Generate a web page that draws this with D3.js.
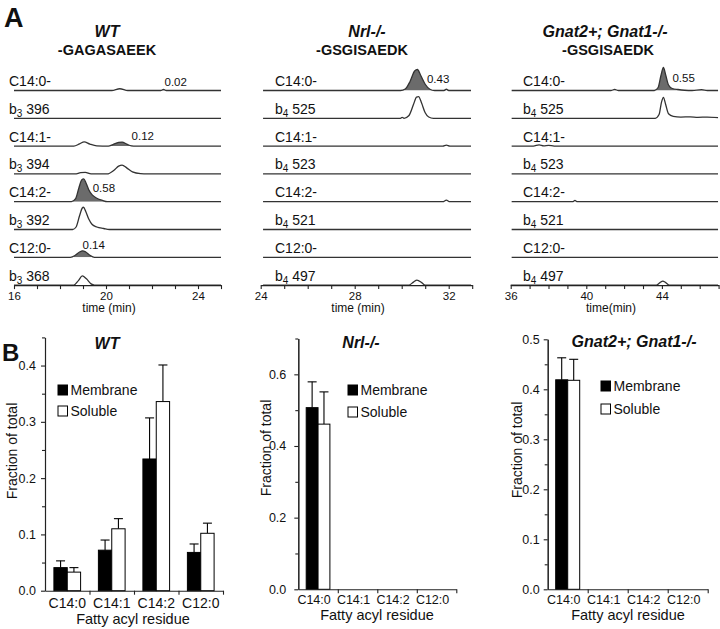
<!DOCTYPE html>
<html>
<head>
<meta charset="UTF-8">
<title>Fatty acylation of transducin</title>
<style>
  body { margin: 0; background: #fff; }
  svg { font-family: "Liberation Sans", Arial, sans-serif; }
  .axis path, .axis line { stroke: #222; stroke-width: 1.1; }
  .axis text { font-family: "Liberation Sans", Arial, sans-serif; fill: #111; }
</style>
</head>
<body>
<svg width="720" height="629"></svg>

<script src="https://d3js.org/d3.v7.min.js"></script>
<script>

// ---------- data: chromatograms (time in min, relative intensity) ----------
const wtRowLabels = ["C14:0-", "b_3 396", "C14:1-", "b_3 394", "C14:2-", "b_3 392", "C12:0-", "b_3 368"];
const koRowLabels = ["C14:0-", "b_4 525", "C14:1-", "b_4 523", "C14:2-", "b_4 521", "C12:0-", "b_4 497"];

const wtTraces = [
  [[16,0],[20.25,0],[20.6,0.07],[20.95,0],[22.38,0],[22.5,0.04],[22.62,0],[25,0]],
  [[16,0],[25,0]],
  [[16,0],[18.6,0],[18.85,0.09],[19.05,0.17],[19.3,0.08],[19.6,0.01],[20.1,0],[20.3,0.06],[20.55,0.15],[20.7,0.16],[20.9,0.08],[21.1,0.01],[21.3,0],[25,0]],
  [[16,0],[18.65,0],[18.9,0.05],[19.1,0.06],[19.35,0],[20.05,0],[20.35,0.15],[20.55,0.31],[20.7,0.35],[20.9,0.24],[21.15,0.08],[21.5,0.01],[21.8,0],[25,0]],
  [[16,0],[18.5,0],[18.68,0.12],[18.82,0.55],[18.95,0.88],[19.03,0.91],[19.13,0.75],[19.25,0.48],[19.4,0.27],[19.6,0.14],[19.85,0.05],[20.05,0],[25,0]],
  [[16,0],[18.55,0],[18.7,0.1],[18.85,0.55],[18.97,0.86],[19.02,0.89],[19.12,0.72],[19.25,0.42],[19.4,0.2],[19.6,0.1],[19.9,0.04],[20.15,0],[25,0]],
  [[16,0],[18.45,0],[18.65,0.07],[18.85,0.21],[18.98,0.26],[19.12,0.21],[19.3,0.08],[19.5,0],[25,0]],
  [[16,0],[18.6,0],[18.8,0.18],[18.97,0.37],[19.15,0.25],[19.35,0.05],[19.5,0],[25,0]]
];
const wtFills = [[22.35, 22.65], null, [20.15, 21.2], null, [18.4, 20.1], null, [18.4, 19.55], null];
const wtPeakLabels = ["0.02", null, "0.12", null, "0.58", null, "0.14", null];
const wtPeakTimes = [22.5, null, 20.7, null, 19.03, null, 18.98, null];

const nrlTraces = [
  [[24.1,0],[29.95,0],[30.15,0.06],[30.35,0.35],[30.55,0.78],[30.67,0.84],[30.8,0.62],[31.0,0.25],[31.2,0.05],[31.4,0],[31.8,0],[31.9,0.05],[32.0,0],[32.95,0]],
  [[24.1,0],[29.95,0],[30.02,0.04],[30.1,0],[30.3,0.1],[30.5,0.55],[30.63,0.85],[30.72,0.87],[30.85,0.6],[31.0,0.22],[31.15,0.05],[31.35,0],[32.95,0]],
  [[24.1,0],[31.75,0],[31.9,0.04],[32.05,0],[32.95,0]],
  [[24.1,0],[32.95,0]],
  [[24.1,0],[31.75,0],[31.9,0.06],[32.05,0],[32.95,0]],
  [[24.1,0],[32.95,0]],
  [[24.1,0],[32.95,0]],
  [[24.1,0],[30.3,0],[30.5,0.12],[30.65,0.2],[30.85,0.1],[31.0,0],[32.95,0]]
];
const nrlFills = [[29.9, 31.45], null, null, null, null, null, null, null];
const nrlPeakLabels = ["0.43", null, null, null, null, null, null, null];
const nrlPeakTimes = [30.67, null, null, null, null, null, null, null];

const gnatTraces = [
  [[36.05,0],[41.3,0],[41.5,0.04],[41.7,0],[43.6,0],[43.8,0.12],[43.95,0.6],[44.08,0.92],[44.2,0.62],[44.35,0.22],[44.55,0.08],[44.85,0.04],[45.2,0.01],[45.6,0],[46.1,0.03],[46.4,0],[46.97,0]],
  [[36.05,0],[43.65,0],[43.85,0.15],[43.98,0.65],[44.08,0.84],[44.2,0.55],[44.35,0.18],[44.6,0.08],[45.0,0.05],[45.5,0.06],[45.9,0.04],[46.4,0.05],[46.97,0.03]],
  [[36.05,0],[37.2,0],[37.5,0.05],[37.75,0.01],[38.0,0.03],[38.3,0],[46.97,0]],
  [[36.05,0],[46.97,0]],
  [[36.05,0],[39.3,0],[39.4,0.05],[39.5,0],[46.97,0]],
  [[36.05,0],[46.97,0]],
  [[36.05,0],[46.97,0]],
  [[36,0],[43.7,0],[43.9,0.1],[44.05,0.16],[44.2,0.1],[44.4,0],[46.97,0]]
];
const gnatFills = [[43.55, 45.3], null, null, null, null, null, null, null];
const gnatPeakLabels = ["0.55", null, null, null, null, null, null, null];
const gnatPeakTimes = [44.08, null, null, null, null, null, null, null];

// ---------- data: fractions ----------
const residues = ["C14:0", "C14:1", "C14:2", "C12:0"];
const wtMembrane    = [0.041, 0.072, 0.234, 0.068];
const wtMembraneErr = [0.012, 0.018, 0.073, 0.015];
const wtSoluble     = [0.033, 0.110, 0.336, 0.102];
const wtSolubleErr  = [0.008, 0.018, 0.065, 0.018];
const nrlMembrane    = [0.507, 0, 0, 0];
const nrlMembraneErr = [0.072, 0, 0, 0];
const nrlSoluble     = [0.461, 0, 0, 0];
const nrlSolubleErr  = [0.090, 0, 0, 0];
const gnatMembrane    = [0.419, 0, 0, 0];
const gnatMembraneErr = [0.044, 0, 0, 0];
const gnatSoluble     = [0.418, 0, 0, 0];
const gnatSolubleErr  = [0.042, 0, 0, 0];

// ---------- drawing ----------
const svg = d3.select("svg");
const ink = "#111";

svg.append("text").attr("x", 4).attr("y", 27).attr("font-size", 27).attr("font-weight", "bold").attr("fill", ink).text("A");
svg.append("text").attr("x", 2).attr("y", 361).attr("font-size", 24).attr("font-weight", "bold").attr("fill", ink).text("B");

function rowLabel(g, x, y, s) {
  const t = g.append("text").attr("x", x).attr("y", y).attr("font-size", 14).attr("fill", ink)
    .style("white-space", "pre");
  const m = s.match(/^(\w)_(\d)(.*)$/);
  if (m) {
    t.append("tspan").text(m[1]);
    t.append("tspan").attr("font-size", 10).attr("dy", 3).text(m[2]);
    t.append("tspan").attr("dy", -3).text(m[3]);
  } else {
    t.text(s);
  }
}

const rowY = i => 90.5 + 27.8 * i;

function chromPanel(p, idx) {
  const x = d3.scaleLinear().domain(p.domain).range(p.range);
  const g = svg.append("g");

  g.append("text").attr("x", p.titleX).attr("y", 37).attr("text-anchor", "middle")
    .attr("font-size", 16).attr("font-weight", "bold").attr("font-style", "italic").attr("fill", ink).text(p.title);
  g.append("text").attr("x", p.subX).attr("y", 55).attr("text-anchor", "middle")
    .attr("font-size", 14.5).attr("font-weight", "bold").attr("fill", ink).text(p.peptide);

  p.traces.forEach((pts, i) => {
    const base = rowY(i);
    const y = d3.scaleLinear().domain([0, 1]).range([base, base - 25]);
    const curve = d3.curveMonotoneX;
    if (p.fills[i]) {
      const id = "clip" + idx + "_" + i;
      const fw = p.fills[i];
      g.append("clipPath").attr("id", id).append("rect")
        .attr("x", x(fw[0])).attr("width", x(fw[1]) - x(fw[0]))
        .attr("y", base - 30).attr("height", 30);
      g.append("path").datum(pts)
        .attr("d", d3.area().x(d => x(d[0])).y0(base).y1(d => y(d[1])).curve(curve))
        .attr("clip-path", "url(#" + id + ")")
        .attr("fill", "#6b6b6b");
    }
    g.append("path").datum(pts)
      .attr("d", d3.line().x(d => x(d[0])).y(d => y(d[1])).curve(curve))
      .attr("fill", "none").attr("stroke", "#333").attr("stroke-width", 1.3);

    rowLabel(g, p.labelX, base - 4.5, p.rowLabels[i]);

    if (p.peakLabels[i]) {
      const pt = p.peakTimes[i];
      const nudge = p.nudge[i];
      g.append("text").attr("x", x(pt) + nudge[0]).attr("y", base + nudge[1])
        .attr("font-size", 11.5).attr("fill", ink).text(p.peakLabels[i]);
    }
  });

  const ax = g.append("g").attr("class", "axis").attr("transform", "translate(0," + rowY(7) + ")")
    .call(d3.axisBottom(x)
      .tickValues(d3.range(p.domain[0], p.domain[1] + 1))
      .tickSize(4).tickSizeOuter(0).tickPadding(3)
      .tickFormat(d => p.labelTicks.includes(d) ? d : ""));
  ax.selectAll("text").attr("font-size", 11.5);

  g.append("text").attr("x", p.timeX).attr("y", 312).attr("text-anchor", "middle")
    .attr("font-size", 12).attr("fill", ink).text(p.timeLabel);
}

chromPanel({
  title: "WT", peptide: "-GAGASAEEK", titleX: 107, subX: 107,
  domain: [16, 25], range: [14, 221], labelTicks: [16, 20, 24],
  traces: wtTraces, fills: wtFills, rowLabels: wtRowLabels,
  peakLabels: wtPeakLabels, peakTimes: wtPeakTimes,
  nudge: [[1, -4.5], null, [9.5, -6.5], null, [9, -10], null, [0, -8], null],
  labelX: 9, timeX: 109, timeLabel: "time (min)"
}, 0);

chromPanel({
  title: "Nrl-/-", peptide: "-GSGISAEDK", titleX: 367, subX: 362,
  domain: [24, 33], range: [260.7, 472.2], labelTicks: [24, 28, 32],
  traces: nrlTraces, fills: nrlFills, rowLabels: koRowLabels,
  peakLabels: nrlPeakLabels, peakTimes: nrlPeakTimes,
  nudge: [[9.5, -8], null, null, null, null, null, null, null],
  labelX: 275, timeX: 358, timeLabel: "time (min)"
}, 1);

chromPanel({
  title: "Gnat2+; Gnat1-/-", peptide: "-GSGISAEDK", titleX: 605, subX: 608,
  domain: [36, 47], range: [510.7, 718.6], labelTicks: [36, 40, 44],
  traces: gnatTraces, fills: gnatFills, rowLabels: koRowLabels,
  peakLabels: gnatPeakLabels, peakTimes: gnatPeakTimes,
  nudge: [[9, -9], null, null, null, null, null, null, null],
  labelX: 523, timeX: 611, timeLabel: "time(min)"
}, 2);

// ---------- bar panels ----------
function barPanel(p) {
  const x = d3.scaleBand().domain(residues).range(p.xr);
  const bw = x.bandwidth();
  const y = d3.scaleLinear().domain([0, p.ymax]).range([p.y0, p.ytop]);
  const g = svg.append("g");

  // bars
  const series = [
    { vals: p.membrane, errs: p.membraneErr, fill: "#000", off: -0.3 },
    { vals: p.soluble, errs: p.solubleErr, fill: "#fff", off: 0 }
  ];
  series.forEach(s => {
    residues.forEach((r, i) => {
      if (!s.vals[i]) return;
      const bx = x(r) + bw / 2 + s.off * bw;
      const cx = bx + 0.15 * bw;
      g.append("line").attr("x1", cx).attr("x2", cx)
        .attr("y1", y(s.vals[i])).attr("y2", y(s.vals[i] + s.errs[i]))
        .attr("stroke", "#000").attr("stroke-width", 1.1);
      g.append("line").attr("x1", cx - 4.5).attr("x2", cx + 4.5)
        .attr("y1", y(s.vals[i] + s.errs[i])).attr("y2", y(s.vals[i] + s.errs[i]))
        .attr("stroke", "#000").attr("stroke-width", 1.1);
      g.append("rect").attr("x", bx).attr("width", 0.3 * bw)
        .attr("y", y(s.vals[i])).attr("height", y(0) - y(s.vals[i]))
        .attr("fill", s.fill).attr("stroke", "#000").attr("stroke-width", 1);
    });
  });

  // y axis with minor ticks
  const major = d3.range(0, p.ymax + 1e-9, p.step);
  const minor = d3.range(p.step / 2, p.ymax + 1e-9, p.step);
  g.append("g").attr("class", "axis").attr("transform", "translate(" + p.xr[0] + ",0)")
    .call(d3.axisLeft(y).tickValues(minor).tickSize(3).tickSizeOuter(0).tickFormat(""));
  const ya = g.append("g").attr("class", "axis").attr("transform", "translate(" + p.xr[0] + ",0)")
    .call(d3.axisLeft(y).tickValues(major).tickSize(4).tickSizeOuter(0).tickPadding(p.yPad).tickFormat(d3.format(".1f")));
  ya.selectAll("text").attr("font-size", 12.5);

  // x axis: boundaries ticks + category labels
  const xb = d3.scaleLinear().domain([0, residues.length]).range(p.xr);
  g.append("g").attr("class", "axis").attr("transform", "translate(0," + p.y0 + ")")
    .call(d3.axisBottom(xb).tickValues(d3.range(1, residues.length + 1)).tickSize(4).tickSizeOuter(0).tickFormat(""));
  const xl = g.append("g").attr("class", "axis").attr("transform", "translate(0," + p.y0 + ")")
    .call(d3.axisBottom(x).tickSize(0).tickPadding(p.catPad));
  xl.select(".domain").remove();
  xl.selectAll("text").attr("font-size", p.catSize).attr("dx", p.catDx);

  g.append("text").attr("x", p.xLabelX).attr("y", p.xLabelY).attr("text-anchor", "middle")
    .attr("font-size", 14.5).attr("fill", ink).text("Fatty acyl residue");
  g.append("text").attr("transform", "translate(" + p.yLabelX + "," + p.yLabelY + ") rotate(-90)")
    .attr("text-anchor", "middle").attr("font-size", 14).attr("fill", ink).text("Fraction of total");

  g.append("text").attr("x", p.titleX).attr("y", p.titleY).attr("text-anchor", "middle")
    .attr("font-size", 16).attr("font-weight", "bold").attr("font-style", "italic").attr("fill", ink).text(p.title);

  // legend
  [["Membrane", "#000"], ["Soluble", "#fff"]].forEach((d, i) => {
    const ly = p.legY + i * p.legGap;
    g.append("rect").attr("x", p.legX).attr("y", ly).attr("width", 9.5).attr("height", 10)
      .attr("fill", d[1]).attr("stroke", "#000").attr("stroke-width", 1);
    g.append("text").attr("x", p.legX + 12.5).attr("y", ly + 10).attr("font-size", 14).attr("fill", ink).text(d[0]);
  });
}

barPanel({
  title: "WT", titleX: 107, titleY: 349,
  xr: [45, 223], y0: 590.7, ytop: 337.4, ymax: 0.45, step: 0.1, yPad: 5,
  membrane: wtMembrane, membraneErr: wtMembraneErr, soluble: wtSoluble, solubleErr: wtSolubleErr,
  catPad: 7, catSize: 14, catDx: 0,
  xLabelX: 133, xLabelY: 624, yLabelX: 17, yLabelY: 451,
  legX: 58, legY: 385, legGap: 21
});

barPanel({
  title: "Nrl-/-", titleX: 361, titleY: 348,
  xr: [298.3, 456.3], y0: 589.3, ytop: 338.5, ymax: 0.7, step: 0.2, yPad: 8,
  membrane: nrlMembrane, membraneErr: nrlMembraneErr, soluble: nrlSoluble, solubleErr: nrlSolubleErr,
  catPad: 6, catSize: 12.5, catDx: -4,
  xLabelX: 377, xLabelY: 620, yLabelX: 271, yLabelY: 448,
  legX: 348, legY: 385, legGap: 22
});

barPanel({
  title: "Gnat2+; Gnat1-/-", titleX: 634, titleY: 347,
  xr: [547.7, 707.7], y0: 589.3, ytop: 339.3, ymax: 0.5, step: 0.1, yPad: 4,
  membrane: gnatMembrane, membraneErr: gnatMembraneErr, soluble: gnatSoluble, solubleErr: gnatSolubleErr,
  catPad: 6, catSize: 12.5, catDx: -4,
  xLabelX: 628, xLabelY: 620, yLabelX: 522, yLabelY: 450,
  legX: 601, legY: 381, legGap: 23
});

</script>
</body>
</html>
